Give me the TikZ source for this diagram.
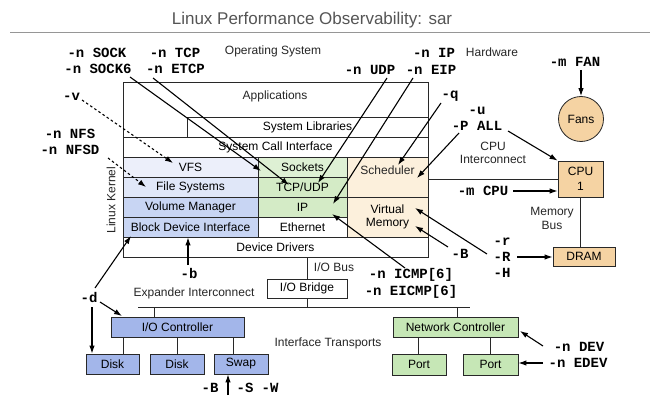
\documentclass[tikz,border=0pt]{standalone}
\usepackage{fontspec}
\setmainfont{Liberation Sans}
\setmonofont{Liberation Mono}
\usetikzlibrary{arrows.meta}
\definecolor{linec}{RGB}{40,40,40}
\definecolor{vfsc}{RGB}{236,239,250}
\definecolor{fsc}{RGB}{224,231,248}
\definecolor{vmc}{RGB}{200,213,243}
\definecolor{netc}{RGB}{212,235,198}
\definecolor{sockc}{RGB}{222,240,212}
\definecolor{schc}{RGB}{252,240,220}
\definecolor{iocol}{RGB}{163,182,234}
\definecolor{nicol}{RGB}{198,231,182}
\definecolor{hwc}{RGB}{245,211,163}
\definecolor{titlec}{RGB}{85,85,85}
\definecolor{rulec}{RGB}{150,150,150}
\begin{document}
\begin{tikzpicture}[x=1pt,y=-1pt,
 txt/.style={font=\fontsize{12}{13.5}\selectfont, inner sep=0pt, text=black!85},
 opt/.style={font=\ttfamily\bfseries\fontsize{14}{15}\selectfont, inner sep=0pt},
 cell/.style={draw=linec, line width=0.8pt, inner sep=0pt, font=\fontsize{12}{13.5}\selectfont},
 hw/.style={cell, align=center},
 arr/.style={-{Latex[length=8pt,width=5.5pt]}, line width=1.1pt},
 darr/.style={arr, dash pattern=on 2.5pt off 2.5pt},
 wire/.style={draw=linec, line width=0.8pt}]
\fill[white] (0,0) rectangle (660,406);
\useasboundingbox (0,0) rectangle (660,406);

% title
\node[font=\fontsize{17}{20}\selectfont, text=titlec, inner sep=0pt] (title) at (312,20) {Linux Performance Observability: sar};
\draw[rulec, line width=1pt] (10,33) -- (650,33);

% section labels
\node[txt] (os) at (273,51) {Operating System};
\node[txt] (hwl) at (492,52) {Hardware};

% OS stack
\draw[wire] (123,82) rectangle (428,257);
\node[txt] (apps) at (275,96) {Applications};
\node[cell, minimum width=241, minimum height=20] (slib) at (307.5,127) {System Libraries};
\node[cell, minimum width=305, minimum height=20] (sci) at (275.5,147) {System Call Interface};
\node[cell, fill=vfsc, minimum width=135, minimum height=20] (vfs) at (190.5,167) {VFS};
\node[cell, fill=fsc, minimum width=135, minimum height=20] (fs) at (190.5,187) {File Systems};
\node[cell, fill=vmc, minimum width=135, minimum height=20] (volm) at (190.5,207) {Volume Manager};
\node[cell, fill=vmc, minimum width=135, minimum height=20] (bdi) at (190.5,227) {Block Device Interface};
\node[cell, fill=sockc, minimum width=89, minimum height=20] (sock) at (302.5,167) {Sockets};
\node[cell, fill=netc, minimum width=89, minimum height=20] (tcp) at (302.5,187) {TCP/UDP};
\node[cell, fill=netc, minimum width=89, minimum height=20] (ip) at (302.5,207) {IP};
\node[cell, minimum width=89, minimum height=20] (eth) at (302.5,227) {Ethernet};
\node[cell, fill=schc, minimum width=81, minimum height=40] (sched) at (387.5,177) {};
\node[txt] (schedt) at (387.5,170) {Scheduler};
\node[cell, fill=schc, minimum width=81, minimum height=40, align=center] (vmem) at (387.5,217) {Virtual\\Memory};
\node[cell, minimum width=305, minimum height=20] (dd) at (275.5,247) {Device Drivers};
\node[txt, rotate=90] (lk) at (111,200) {Linux Kernel};

% hardware
\node[cell, circle, fill=hwc, minimum size=45] (fans) at (581,119) {Fans};
\node[hw, fill=hwc, minimum width=45, minimum height=36] (cpu) at (580.5,179) {CPU\\[1pt]1};
\node[hw, fill=hwc, minimum width=62, minimum height=19] (dram) at (584,256.5) {DRAM};
\node[txt, align=center] (cpuic) at (493,153) {CPU\\Interconnect};
\node[txt, align=center] (membus) at (552,218.5) {Memory\\Bus};
\draw[wire] (sched.east |- cpu.west) -- (cpu.west);
\draw[wire] (cpu.south) -- (cpu.south |- dram.north);

% I/O
\node[hw, minimum width=80, minimum height=19] (iob) at (307,288.5) {I/O Bridge};
\node[txt] (iobus) at (334,267) {I/O Bus};
\draw[wire] (dd.south -| iob.north) -- (iob.north);
\coordinate (busL) at (138,307);
\coordinate (busR) at (470,307);
\draw[wire] (busL) -- (busR);
\draw[wire] (iob.south) -- (iob.south |- busL);
\node[txt] (expl) at (194,293) {Expander Interconnect};
\node[txt] (itl) at (328,343) {Interface Transports};

\node[hw, fill=iocol, minimum width=133, minimum height=20] (ioc) at (177.5,327) {I/O Controller};
\node[hw, fill=iocol, minimum width=53, minimum height=20] (disk1) at (112.5,364) {Disk};
\node[hw, fill=iocol, minimum width=54, minimum height=20] (disk2) at (177,364) {Disk};
\node[hw, fill=iocol, minimum width=54, minimum height=20] (swap) at (241,364) {Swap};
\draw[wire] ([xshift=-23.5pt]ioc.north) -- ([xshift=-23.5pt]ioc.north |- busL);
\draw[wire] ([xshift=10.5pt]disk1.north) -- ([xshift=10.5pt]disk1.north |- ioc.south);
\draw[wire] (disk2.north) -- (disk2.north |- ioc.south);
\draw[wire] ([xshift=-8pt]swap.north) -- ([xshift=-8pt]swap.north |- ioc.south);

\node[hw, fill=nicol, minimum width=125, minimum height=20] (nc) at (455.5,327) {Network Controller};
\node[hw, fill=nicol, minimum width=54, minimum height=21] (port1) at (419,364.5) {Port};
\node[hw, fill=nicol, minimum width=55, minimum height=21] (port2) at (490.5,364.5) {Port};
\draw[wire] ([xshift=1.5pt]nc.north) -- ([xshift=1.5pt]nc.north |- busL);
\draw[wire] ([xshift=-1pt]port1.north) -- ([xshift=-1pt]port1.north |- nc.south);
\draw[wire] ([xshift=-0.5pt]port2.north) -- ([xshift=-0.5pt]port2.north |- nc.south);

% option labels
\node[opt] (sockl) at (97,53) {-n SOCK};
\node[opt] (sock6l) at (98,69) {-n SOCK6};
\node[opt] (tcpl) at (175,53) {-n TCP};
\node[opt] (etcpl) at (175.5,69) {-n ETCP};
\node[opt] (ipl) at (434,53) {-n IP};
\node[opt] (udpl) at (370,70) {-n UDP};
\node[opt] (eipl) at (431,70) {-n EIP};
\node[opt] (ql) at (450,96) {-q};
\node[opt] (ul) at (477,111) {-u};
\node[opt] (pall) at (477,126) {-P ALL};
\node[opt] (fanl) at (575,62) {-m FAN};
\node[opt] (mcpul) at (483,191) {-m CPU};
\node[opt] (rl) at (502,242) {-r};
\node[opt] (Rl) at (502,257) {-R};
\node[opt] (Hl) at (502,273) {-H};
\node[opt] (Bvm) at (460,254) {-B};
\node[opt] (icmpl) at (411,275) {-n ICMP[6]};
\node[opt] (eicmpl) at (411,292) {-n EICMP[6]};
\node[opt] (vl) at (71.5,97) {-v};
\node[opt] (nfsl) at (70,134) {-n NFS};
\node[opt] (nfsdl) at (70,150) {-n NFSD};
\node[opt] (bl) at (189,273) {-b};
\node[opt] (dl) at (89,297) {-d};
\node[opt] (Bsw) at (210,388) {-B};
\node[opt] (Ssw) at (245,388) {-S};
\node[opt] (Wsw) at (270,388) {-W};
\node[opt] (devl) at (579,347) {-n DEV};
\node[opt] (edevl) at (578,363) {-n EDEV};

% arrow end points
\coordinate (sockS) at (130,77);  \coordinate (sockE) at (261,171);
\coordinate (tcpS) at (153,78);   \coordinate (tcpE) at (289,185);
\coordinate (udpS) at (387,78);   \coordinate (udpE) at (318,183);
\coordinate (eipS) at (413,78);   \coordinate (eipE) at (333,204);
\coordinate (qS) at (441,103);    \coordinate (qE) at (398,165);
\coordinate (pS1) at (459,133);   \coordinate (pE1) at (417,178);
\coordinate (pS2) at (508,131);
\coordinate (mcpuS) at (513,191);
\coordinate (RS1) at (517,257);
\coordinate (RS2) at (487,254);   \coordinate (RE2) at (415,208);
\coordinate (BS) at (448,247);    \coordinate (BE) at (415,226);
\coordinate (icS) at (405,268);   \coordinate (icE) at (332,214);
\coordinate (dS1) at (95,288);    \coordinate (dE1) at (131,236);
\coordinate (dS2) at (92,307);
\coordinate (dS3) at (100,302);   \coordinate (dE3) at (122,316);
\coordinate (swS) at (228,395);
\coordinate (devS) at (543,346);  \coordinate (devE) at (520,331);
\coordinate (edevS) at (543,363);
\coordinate (vS) at (82,100);     \coordinate (vE) at (173,163);
\coordinate (nfsS) at (108,158);  \coordinate (nfsE) at (146,187);
\coordinate (bS) at (188,265);
\coordinate (fanS) at (581,70);

% arrows
\draw[arr] (sockS) -- (sockE);
\draw[arr] (tcpS) -- (tcpE);
\draw[arr] (udpS) -- (udpE);
\draw[arr] (eipS) -- (eipE);
\draw[arr] (qS) -- (qE);
\draw[arr] (pS1) -- (pE1);
\draw[arr] (pS2) -- (cpu.north west);
\draw[arr] (mcpuS) -- (cpu.west |- mcpuS);
\draw[arr] (fanS) -- (fans.north);
\draw[arr] (RS1) -- (dram.west |- RS1);
\draw[arr] (RS2) -- (RE2);
\draw[arr] (BS) -- (BE);
\draw[arr] (icS) -- (icE);
\draw[arr] (bS) -- (bdi.south -| bS);
\draw[arr] (dS1) -- (dE1);
\draw[arr] (dS2) -- (disk1.north -| dS2);
\draw[arr] (dS3) -- (dE3);
\draw[arr] (swS) -- (swap.south -| swS);
\draw[arr] (devS) -- (devE);
\draw[arr] (edevS) -- (port2.east |- edevS);
\draw[darr] (vS) -- (vE);
\draw[darr] (nfsS) -- (nfsE);
\end{tikzpicture}
\end{document}
